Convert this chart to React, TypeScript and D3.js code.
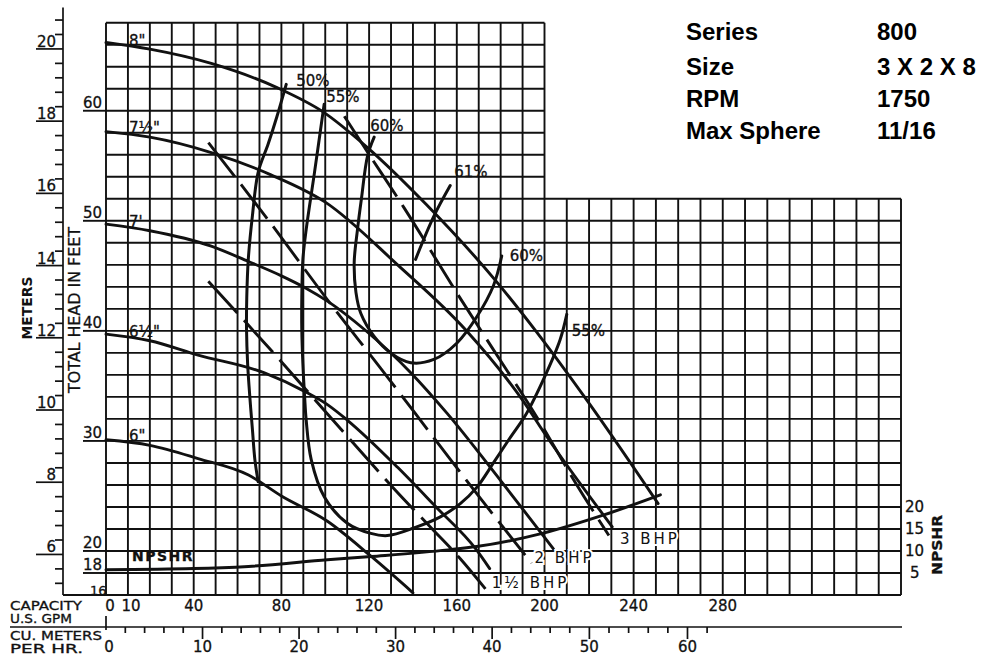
import React from "react";
import * as d3 from "d3";

// capacity (US GPM) / total head (ft)
const head8 = [[0, 66.2], [20, 65.6], [48, 64.3], [78, 62.1], [99, 59.9], [119, 56.7], [146, 51.5], [178, 44.5], [196, 40], [219, 33.7], [251, 24.3]];
const head75 = [[0, 58.1], [20, 57.6], [48, 56.2], [75, 54.2], [100, 51.7], [133, 46], [164, 40.1], [190, 33.7], [201, 30.4], [230.4, 22.2]];
const head7 = [[0, 49.7], [20, 49.1], [48, 47.7], [65, 46.3], [80, 45], [91, 43.9], [101, 42.7], [118, 40.1], [139, 36.2], [155.6, 32.5], [180, 26.4], [204, 20.2]];
const head65 = [[0, 39.7], [20, 39.1], [42, 37.8], [72, 36.2], [90.6, 34.5], [101, 33.3], [110, 31.9], [133, 27.6], [150, 24.1], [169, 20.1], [175, 18.4]];
const head6 = [[0, 30.1], [20, 29.6], [42, 28.4], [65, 26.9], [80, 25], [101, 22.7], [121, 19.5], [140, 16.2]];
const impellerLabels = ['8"', '7½"', "7'", '6½"', '6"'];

// efficiency contours
const eff50 = [[82.2, 62.4], [78, 59.5], [74, 57], [69.4, 54.4], [66.8, 50.5], [64.9, 46.5], [64.2, 43], [64.1, 40.1], [64.6, 37], [65.6, 34], [66.8, 31], [67.9, 28.3], [69.4, 26.3]];
const eff55 = [[99.5, 60.6], [95.1, 54.4], [91.3, 49.2], [89.8, 46.5], [89.3, 43], [89.3, 40.1], [89.8, 37], [90.6, 34], [91.3, 31.9], [93.6, 28.3], [99.6, 24.9], [110.2, 22.5], [120.8, 21.6], [128.3, 21.4], [140.5, 22.1], [152.5, 23.1], [161.6, 24.3], [169.2, 25.8], [176.7, 28], [184, 30.2], [191.8, 32.5], [200, 35.8], [207, 39.2], [210, 41.5]];
const eff60 = [[122.3, 57.6], [119.3, 55.9], [116.5, 52], [114.7, 49.2], [113.2, 46.2], [114, 43.5], [116.2, 41.6], [122.3, 39.5], [129.8, 38], [139, 37.1], [149.5, 37.4], [160.1, 38.9], [169.2, 41.3], [176.7, 44.1], [180.5, 46.8]];
const eff61 = [[157, 53.2], [149.5, 50.4], [141.2, 46.5]];

// brake horsepower lines
const bhp3 = [[108.7, 59.5], [117.8, 56.7], [135.9, 51.2], [162.4, 42.7], [176, 38.5], [196.4, 32.2], [214.5, 26], [228.9, 21.4]];
const bhp2 = [[46.7, 57.1], [73.9, 50.1], [101.1, 42.8], [125.3, 36.6], [153.3, 29.3], [170.7, 24.8], [194.1, 18.9]];
const bhp15 = [[46.7, 44.5], [77.7, 37.7], [98.1, 33.1], [115.5, 29.2], [132.1, 25.5], [148.8, 22], [161.6, 19.3], [173.7, 16.4]];
const bhpLabels = ["3 BHP", "2 BHP", "1½ BHP"];

// NPSHR (ft, right scale)
const npshr = [[0, 5.75], [40, 6], [65, 6.5], [101, 8], [121, 8.75], [156, 10.25], [169, 11], [199, 14], [227, 18.25], [252, 22.75]];

const gpmTicks = [0, 10, 40, 80, 120, 160, 200, 240, 280];
const cmhTicks = [0, 10, 20, 30, 40, 50, 60];
const feetTicks = [60, 50, 40, 30, 20, 18];
const meterTicks = [6, 8, 10, 12, 14, 16, 18, 20];
const npshrTicks = [5, 10, 15, 20];

const infoKeys = ["Series", "Size", "RPM", "Max Sphere"];
const infoVals = ["800", "3 X 2 X 8", "1750", "11/16"];

const FT_PER_M = 3.28084;
const GPM_PER_CMH = 4.40287;

const App = () => {
  const x = d3.scaleLinear().domain([0, 200, 360]).range([106, 544.5, 901]);
  const y = d3.scaleLinear().domain([16, 68]).range([595, 22.7]);
  const yN = d3.scaleLinear().domain([0, 20]).range([y(16), y(24)]);
  const yM = d3.scaleLinear().domain([16 / FT_PER_M, 68 / FT_PER_M]).range([595, 22.7]);
  const xC = (v) => x(v * GPM_PER_CMH);

  const curve = d3.line().x((d) => x(d[0])).y((d) => y(d[1])).curve(d3.curveMonotoneX);
  const loop = d3.line().x((d) => x(d[0])).y((d) => y(d[1])).curve(d3.curveCatmullRom.alpha(0.5));
  const npLine = d3.line().x((d) => x(d[0])).y((d) => yN(d[1])).curve(d3.curveMonotoneX);

  const heads = [head8, head75, head7, head65, head6];
  const effs = [eff50, eff55, eff60, eff61];
  const bhps = [bhp3, bhp2, bhp15];

  const vLines = d3.range(0, 361, 10);
  const hLines = d3.range(16, 69, 2);
  const meterMinor = d3.range(13, 53).map((i) => +(i * 0.4).toFixed(1)).filter((m) => m % 2 !== 0);

  const font = "'DejaVu Sans', sans-serif";
  const ink = "#111";
  const last = (a) => a[a.length - 1];
  const infoY = [40, 75, 107, 139];

  return (
    <svg width={985} height={660} style={{ position: "fixed", left: 0, top: 0, background: "#fff" }} fontFamily={font}>
      {/* info block */}
      {infoKeys.map((k, i) => (
        <g key={k} fontFamily="'Liberation Sans', Arial, sans-serif" fontWeight="bold" fontSize={24} fill="#000">
          <text x={686} y={infoY[i]}>{k}</text>
          <text x={877} y={infoY[i]}>{infoVals[i]}</text>
        </g>
      ))}

      {/* grid */}
      <g stroke={ink} strokeWidth={1.9}>
        {vLines.map((g) => (
          <line key={"v" + g} x1={x(g)} x2={x(g)} y1={y(16)} y2={g <= 200 ? y(68) : y(52)} />
        ))}
        {hLines.map((f) => (
          <line key={"h" + f} x1={x(0)} x2={f <= 52 ? x(360) : x(200)} y1={y(f)} y2={y(f)} />
        ))}
      </g>

      {/* feet axis labels */}
      <g fontSize={15} fill={ink} stroke={ink} strokeWidth={0.3}>
        {feetTicks.map((f) => (
          <g key={"f" + f}>
            <line x1={83} x2={x(0)} y1={y(f)} y2={y(f)} strokeWidth={1.9} />
            <text x={83} y={y(f) - 3}>{f}</text>
          </g>
        ))}
        <line x1={63} x2={x(0)} y1={y(16)} y2={y(16)} strokeWidth={1.9} />
        <text x={90} y={y(16)} fontSize={13}>16</text>
      </g>

      {/* meters axis */}
      <g stroke={ink} strokeWidth={1.7}>
        <line x1={63} x2={63} y1={yM(21.15)} y2={y(16)} />
        {meterMinor.map((m) => (
          <line key={"mm" + m} x1={55} x2={63} y1={yM(m)} y2={yM(m)} />
        ))}
        {meterTicks.map((m) => (
          <line key={"mj" + m} x1={36} x2={63} y1={yM(m)} y2={yM(m)} />
        ))}
      </g>
      <g fontSize={15} fill={ink} stroke={ink} strokeWidth={0.3} textAnchor="end">
        {meterTicks.map((m) => (
          <text key={"mt" + m} x={56} y={yM(m) - 2}>{m}</text>
        ))}
      </g>
      <text transform="translate(80,310) rotate(-90)" textAnchor="middle" fontSize={15} textLength={166} lengthAdjust="spacingAndGlyphs" fill={ink} stroke={ink} strokeWidth={0.3}>TOTAL HEAD IN FEET</text>
      <text transform="translate(32,308) rotate(-90)" textAnchor="middle" fontSize={14} fontWeight="bold" textLength={63} lengthAdjust="spacingAndGlyphs" fill={ink}>METERS</text>

      {/* capacity axes */}
      <g fontSize={15} fill={ink} stroke={ink} strokeWidth={0.3} textAnchor="middle">
        {gpmTicks.map((g) => (
          <text key={"g" + g} x={x(g) + (g === 0 ? 4 : g === 10 ? 3 : 0)} y={611}>{g}</text>
        ))}
        {cmhTicks.map((c) => (
          <text key={"c" + c} x={xC(c) + (c === 0 ? 3 : 0)} y={652}>{c}</text>
        ))}
      </g>
      <g stroke={ink} strokeWidth={1.7}>
        <line x1={10} x2={902} y1={627} y2={627} />
        {d3.range(0, 63, 2).map((c) => (
          <line key={"ct" + c} x1={xC(c)} x2={xC(c)} y1={c === 0 ? 616 : 627} y2={c === 0 ? 630 : c % 10 === 0 ? 639 : 633} />
        ))}
      </g>
      <g fontSize={12} fill={ink} stroke={ink} strokeWidth={0.3}>
        <text x={10} y={610} textLength={72} lengthAdjust="spacingAndGlyphs">CAPACITY</text>
        <text x={10} y={623} textLength={62} lengthAdjust="spacingAndGlyphs">U.S. GPM</text>
        <text x={10} y={640} textLength={92} lengthAdjust="spacingAndGlyphs">CU. METERS</text>
        <text x={10} y={653} textLength={73} lengthAdjust="spacingAndGlyphs">PER HR.</text>
      </g>

      {/* NPSHR right axis */}
      <g fontSize={15} fill={ink} stroke={ink} strokeWidth={0.3}>
        {npshrTicks.map((n) => (
          <text key={"n" + n} x={n < 10 ? 910 : 905} y={yN(n) + 5}>{n}</text>
        ))}
        <text transform="translate(942,545) rotate(-90)" textAnchor="middle" fontWeight="bold" fontSize={14} textLength={60} lengthAdjust="spacingAndGlyphs">NPSHR</text>
      </g>

      {/* head curves, NPSHR, efficiency and BHP lines */}
      <g fill="none" stroke={ink} strokeWidth={2.9} strokeLinecap="round">
        {heads.map((h, i) => (
          <path key={"hc" + i} d={curve(h)} />
        ))}
        <path d={npLine(npshr)} strokeWidth={3} />
        {effs.map((e, i) => (
          <path key={"ef" + i} d={loop(e)} strokeWidth={3} />
        ))}
        {bhps.map((b, i) => (
          <path key={"bh" + i} d={curve(b)} strokeDasharray="43 10" strokeLinecap="butt" />
        ))}
      </g>

      {/* curve labels */}
      <g fontSize={15} fill={ink} stroke={ink} strokeWidth={0.3}>
        {heads.map((h, i) => (
          <text key={"hl" + i} x={x(0) + 23} y={y(h[1][1]) - 4 + (i === 0 ? 1 : 0)}>{impellerLabels[i]}</text>
        ))}
        <text x={x(eff50[0][0]) + 10} y={y(eff50[0][1]) + 2}>50%</text>
        <text x={x(eff55[0][0]) + 2} y={y(eff55[0][1]) - 2}>55%</text>
        <text x={x(eff60[0][0]) - 4} y={y(eff60[0][1]) - 6}>60%</text>
        <text x={x(eff61[0][0]) + 4} y={y(eff61[0][1]) - 9}>61%</text>
        <text x={x(last(eff60)[0]) + 8} y={y(last(eff60)[1]) + 5}>60%</text>
        <text x={x(last(eff55)[0]) + 5} y={y(last(eff55)[1]) + 22}>55%</text>
        <text x={x(npshr[0][0]) + 26} y={yN(npshr[0][1]) - 9} fontSize={14} fontWeight="bold" letterSpacing={1.5}>NPSHR</text>
      </g>
      <g fontSize={15} fill={ink} letterSpacing={3} stroke="#fff" strokeWidth={4} paintOrder="stroke">
        <text x={x(last(bhp3)[0]) + 11} y={y(last(bhp3)[1]) + 8}>{bhpLabels[0]}</text>
        <text x={x(last(bhp2)[0]) + 3} y={y(last(bhp2)[1])}>{bhpLabels[1]}</text>
        <text x={x(last(bhp15)[0]) + 5} y={y(last(bhp15)[1]) - 3}>{bhpLabels[2]}</text>
      </g>
    </svg>
  );
};

export default App;
